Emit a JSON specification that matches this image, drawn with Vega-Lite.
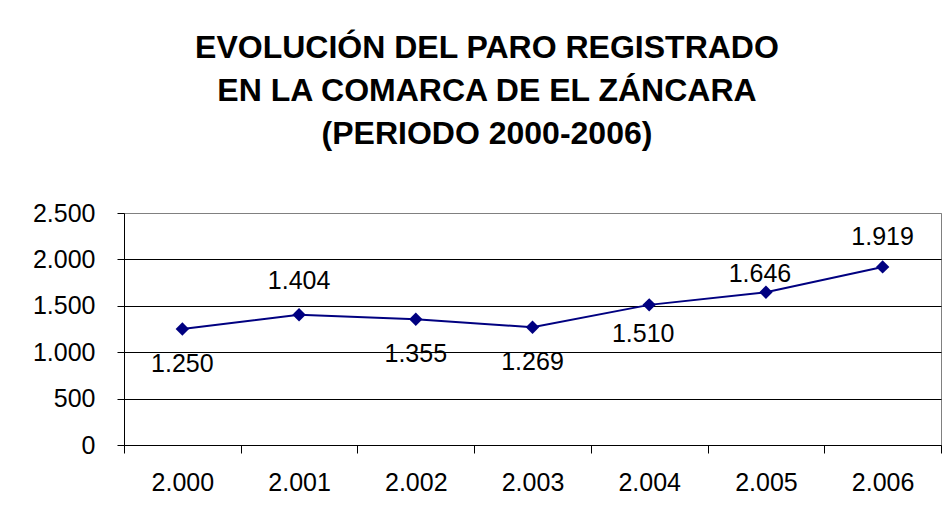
{
  "$schema": "https://vega.github.io/schema/vega-lite/v6.json",
  "width": 817,
  "height": 232,
  "autosize": "none",
  "padding": {"left": 124, "top": 213, "right": 5, "bottom": 76},
  "background": "white",
  "config": {
    "locale": {"number": {"decimal": ",", "thousands": ".", "grouping": [3], "currency": ["", " €"]}},
    "font": "Liberation Sans",
    "view": {"stroke": "#808080", "strokeWidth": 1}
  },
  "title": {
    "text": ["EVOLUCIÓN DEL PARO REGISTRADO", "EN LA COMARCA DE EL ZÁNCARA", "(PERIODO 2000-2006)"],
    "font": "Liberation Sans",
    "fontSize": 32,
    "fontWeight": "bold",
    "color": "black",
    "anchor": "middle",
    "frame": "bounds",
    "offset": 50,
    "lineHeight": 43
  },
  "data": {
    "values": [
      {"anio": 2000, "parados": 1250},
      {"anio": 2001, "parados": 1404},
      {"anio": 2002, "parados": 1355},
      {"anio": 2003, "parados": 1269},
      {"anio": 2004, "parados": 1510},
      {"anio": 2005, "parados": 1646},
      {"anio": 2006, "parados": 1919}
    ]
  },
  "encoding": {
    "x": {
      "field": "anio",
      "type": "ordinal",
      "scale": {"type": "band", "paddingInner": 0, "paddingOuter": 0},
      "axis": {
        "title": null,
        "labelAngle": 0,
        "format": ",d",
        "formatType": "number",
        "tickBand": "extent",
        "tickSize": 8,
        "tickColor": "black",
        "domainColor": "black",
        "labelFont": "Liberation Sans",
        "labelFontSize": 25,
        "labelColor": "black",
        "labelPadding": 17,
        "grid": false
      }
    },
    "y": {
      "field": "parados",
      "type": "quantitative",
      "scale": {"domain": [0, 2500], "nice": false},
      "axis": {
        "title": null,
        "values": [0, 500, 1000, 1500, 2000, 2500],
        "format": ",d",
        "tickSize": 7,
        "tickColor": "black",
        "domainColor": "black",
        "labelFont": "Liberation Sans",
        "labelFontSize": 25,
        "labelColor": "black",
        "labelPadding": 22,
        "grid": true,
        "gridColor": {"condition": {"test": "datum.value === 2500", "value": "#808080"}, "value": "black"},
        "gridOpacity": 1,
        "gridWidth": 1
      }
    }
  },
  "layer": [
    {"mark": {"type": "line", "color": "#000080", "strokeWidth": 2}},
    {"mark": {"type": "point", "shape": "diamond", "filled": true, "size": 180, "color": "#000080", "opacity": 1}},
    {
      "transform": [{"filter": {"field": "anio", "oneOf": [2000, 2002, 2003]}}],
      "mark": {"type": "text", "font": "Liberation Sans", "fontSize": 25, "color": "black", "baseline": "middle", "dy": 35},
      "encoding": {"text": {"field": "parados", "type": "quantitative", "format": ",d"}}
    },
    {
      "transform": [{"filter": {"field": "anio", "equal": 2004}}],
      "mark": {"type": "text", "font": "Liberation Sans", "fontSize": 25, "color": "black", "baseline": "middle", "dy": 29, "dx": -6},
      "encoding": {"text": {"field": "parados", "type": "quantitative", "format": ",d"}}
    },
    {
      "transform": [{"filter": {"field": "anio", "equal": 2001}}],
      "mark": {"type": "text", "font": "Liberation Sans", "fontSize": 25, "color": "black", "baseline": "middle", "dy": -34},
      "encoding": {"text": {"field": "parados", "type": "quantitative", "format": ",d"}}
    },
    {
      "transform": [{"filter": {"field": "anio", "equal": 2005}}],
      "mark": {"type": "text", "font": "Liberation Sans", "fontSize": 25, "color": "black", "baseline": "middle", "dy": -18, "dx": -6},
      "encoding": {"text": {"field": "parados", "type": "quantitative", "format": ",d"}}
    },
    {
      "transform": [{"filter": {"field": "anio", "equal": 2006}}],
      "mark": {"type": "text", "font": "Liberation Sans", "fontSize": 25, "color": "black", "baseline": "middle", "dy": -30},
      "encoding": {"text": {"field": "parados", "type": "quantitative", "format": ",d"}}
    }
  ]
}
